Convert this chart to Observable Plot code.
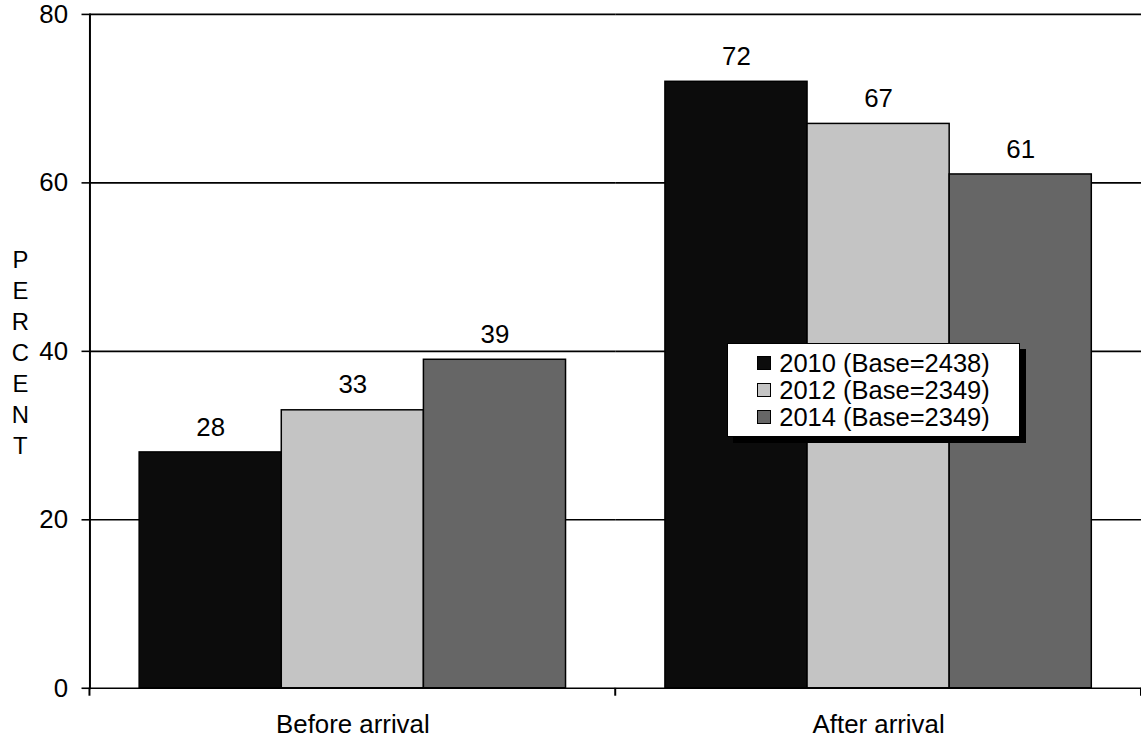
<!DOCTYPE html>
<html><head><meta charset="utf-8">
<script src="https://cdn.jsdelivr.net/npm/d3@7"></script>
<script src="https://cdn.jsdelivr.net/npm/@observablehq/plot@0.6"></script>
<style>
html,body{margin:0;padding:0;overflow:hidden;background:#fff;}
#wrap{position:relative;width:1141px;height:746px;overflow:hidden;font-family:"Liberation Sans",Arial,sans-serif;}
#legend{position:absolute;left:727px;top:343px;width:291px;height:92px;border:1.5px solid #000;background:#fff;box-shadow:6px 6px 0 #000;display:flex;justify-content:center;align-items:center;}
#legend .inner{display:flex;flex-direction:column;align-items:flex-start;}
#legend .row{display:flex;align-items:center;height:27px;font-size:25.5px;color:#000;white-space:nowrap;}
#legend .sw{width:14px;height:14px;border:1px solid #000;margin-right:8px;box-sizing:border-box;}
</style></head><body><div id="wrap"></div>
<script>
const groups = ["Before arrival", "After arrival"];
const series = ["2010", "2012", "2014"];
const seriesLabels = ["2010 (Base=2438)", "2012 (Base=2349)", "2014 (Base=2349)"];
const values2010 = [28, 72];
const values2012 = [33, 67];
const values2014 = [39, 61];
const colors = ["#0c0c0c", "#c4c4c4", "#666666"];
const yTicks = [0, 20, 40, 60, 80];
const yLabel = "PERCENT";

const valuesBySeries = [values2010, values2012, values2014];
const data = [];
groups.forEach((g, gi) => series.forEach((s, si) => data.push({group: g, series: s, value: valuesBySeries[si][gi]})));

const FONT = "'Liberation Sans', Arial, sans-serif";
const chart = Plot.plot({
  width: 1148, height: 746,
  marginLeft: 90, marginRight: 0, marginTop: 14, marginBottom: 54,
  style: {fontFamily: FONT, fontSize: "26px", color: "#000", background: "#fff", overflow: "visible"},
  fx: {domain: groups, padding: 0, label: null},
  x: {domain: series, paddingInner: 0, paddingOuter: 0.34, axis: null},
  y: {domain: [0, 80], axis: null},
  color: {domain: series, range: colors},
  marks: [
    Plot.ruleY(yTicks.filter(t => t > 0), {stroke: "#000", strokeWidth: 1.6}),
    Plot.barY(data, {fx: "group", x: "series", y: "value", fill: "series", stroke: "#000", strokeWidth: 1.5}),
    Plot.ruleY([0], {stroke: "#000", strokeWidth: 1.6}),
    Plot.frame({anchor: "left", facetAnchor: "left", stroke: "#000", strokeWidth: 2}),
    Plot.axisY({ticks: yTicks, tickSize: 8, tickPadding: 14, label: null, fontSize: 26, strokeWidth: 1.6}),
    Plot.axisFx({anchor: "bottom", tickSize: 0, tickPadding: 27, label: null, fontSize: 26}),
    Plot.text(data, {fx: "group", x: "series", y: "value", text: d => String(d.value), lineAnchor: "bottom", dy: -17, fontSize: 26, fill: "#000"}),
    Plot.text([yLabel.split("").join("\n")], {frameAnchor: "left", facetAnchor: "left", dx: -70, lineHeight: 1.3, textAnchor: "middle", fontSize: 24, fill: "#000"})
  ]
});

// category boundary ticks below the baseline, placed through the chart's own scales
const fxs = chart.scale("fx"), ys = chart.scale("y");
const y0 = ys.apply(0);
const edges = groups.map(g => fxs.apply(g));
edges.push(fxs.apply(groups[groups.length - 1]) + fxs.bandwidth);
d3.select(chart).append("g").selectAll("line").data(edges).join("line")
  .attr("x1", d => d).attr("x2", d => d).attr("y1", y0).attr("y2", y0 + 8)
  .attr("stroke", "#000").attr("stroke-width", 2);

const wrap = document.getElementById("wrap");
wrap.appendChild(chart);

const legend = document.createElement("div");
legend.id = "legend";
const inner = document.createElement("div");
inner.className = "inner";
seriesLabels.forEach((lab, i) => {
  const row = document.createElement("div");
  row.className = "row";
  const sw = document.createElement("span");
  sw.className = "sw";
  sw.style.background = colors[i];
  const t = document.createElement("span");
  t.textContent = lab;
  row.appendChild(sw); row.appendChild(t);
  inner.appendChild(row);
});
legend.appendChild(inner);
wrap.appendChild(legend);
</script></body></html>
